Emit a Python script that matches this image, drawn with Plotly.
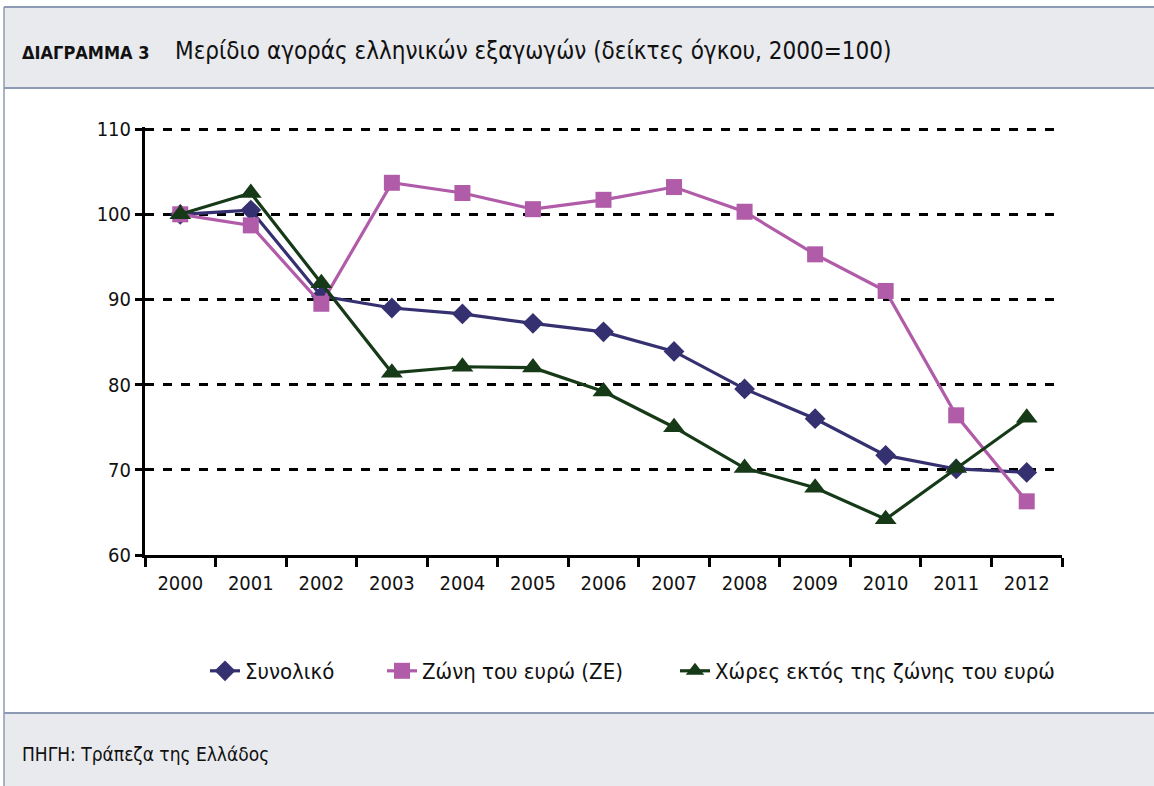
import plotly.graph_objects as go

years = ["2000", "2001", "2002", "2003", "2004", "2005", "2006", "2007", "2008", "2009", "2010", "2011", "2012"]
total = [100.0, 100.5, 90.4, 89.0, 88.3, 87.2, 86.2, 83.9, 79.5, 76.0, 71.7, 70.1, 69.7]
euro_area = [100.0, 98.7, 89.5, 103.7, 102.5, 100.6, 101.7, 103.2, 100.3, 95.3, 91.0, 76.4, 66.3]
non_euro = [100.0, 102.5, 91.9, 81.4, 82.1, 82.0, 79.2, 75.0, 70.2, 67.9, 64.2, 70.2, 76.1]

names = ["Συνολικό", "Ζώνη του ευρώ (ΖΕ)", "Χώρες εκτός της ζώνης του ευρώ"]
colors = ["#35306f", "#b05ca8", "#163a17"]

FONT = "DejaVu Sans Condensed, Liberation Sans Narrow, sans-serif"
W, H = 1154, 786
L, R, T, B = 145, 1062, 127, 555

def px(x):
    return (x - L) / (R - L)

def py(y):
    return (B - y) / (B - T)

fig = go.Figure()
fig.add_trace(go.Scatter(x=years, y=total, name=names[0], mode="lines+markers", legend="legend",
                         line=dict(color=colors[0], width=3.2),
                         marker=dict(symbol="diamond", size=16, color=colors[0])))
fig.add_trace(go.Scatter(x=years, y=euro_area, name=names[1], mode="lines+markers", legend="legend2",
                         line=dict(color=colors[1], width=3.2),
                         marker=dict(symbol="square", size=16, color=colors[1])))
fig.add_trace(go.Scatter(x=years, y=non_euro, name=names[2], mode="lines+markers", legend="legend3",
                         line=dict(color=colors[2], width=3.2),
                         marker=dict(symbol="triangle-up", size=19, color=colors[2])))

shapes = [
    dict(type="rect", xref="paper", yref="paper", x0=px(4), x1=px(1160), y0=py(88), y1=py(7),
         fillcolor="#e9eaee", line=dict(width=0), layer="below"),
    dict(type="rect", xref="paper", yref="paper", x0=px(4), x1=px(1160), y0=py(790), y1=py(713),
         fillcolor="#e9eaee", line=dict(width=0), layer="below"),
    dict(type="line", xref="paper", yref="paper", x0=px(4), x1=px(1160), y0=py(7), y1=py(7),
         line=dict(color="#8c9bb3", width=2)),
    dict(type="line", xref="paper", yref="paper", x0=px(4), x1=px(1160), y0=py(88), y1=py(88),
         line=dict(color="#8c9bb3", width=2)),
    dict(type="line", xref="paper", yref="paper", x0=px(4), x1=px(1160), y0=py(713), y1=py(713),
         line=dict(color="#8c9bb3", width=2)),
    dict(type="line", xref="paper", yref="paper", x0=px(4), x1=px(4), y0=py(790), y1=py(7),
         line=dict(color="#8c9bb3", width=1.5)),
]

annotations = [
    dict(text="<b>ΔΙΑΓΡΑΜΜΑ 3</b>", xref="paper", yref="paper", x=px(20), y=py(53),
         xanchor="left", yanchor="middle", showarrow=False,
         font=dict(family=FONT, size=18, color="#111")),
    dict(text="Μερίδιο αγοράς ελληνικών εξαγωγών (δείκτες όγκου, 2000=100)", xref="paper", yref="paper",
         x=px(173), y=py(51), xanchor="left", yanchor="middle", showarrow=False,
         font=dict(family=FONT, size=24, color="#111")),
    dict(text="ΠΗΓΗ: Τράπεζα της Ελλάδος", xref="paper", yref="paper", x=px(20), y=py(754),
         xanchor="left", yanchor="middle", showarrow=False,
         font=dict(family=FONT, size=19, color="#111")),
]

leg_common = dict(orientation="h", y=py(671), xanchor="left", yanchor="middle",
                  font=dict(family=FONT, size=22, color="#111"), itemwidth=30,
                  bgcolor="rgba(0,0,0,0)")

fig.update_layout(
    width=W, height=H,
    margin=dict(l=L, r=W - R, t=T, b=H - B, autoexpand=False),
    paper_bgcolor="white", plot_bgcolor="white",
    font=dict(family=FONT, size=18, color="#111"),
    shapes=shapes, annotations=annotations,
    showlegend=True,
    legend=dict(x=px(205), **leg_common),
    legend2=dict(x=px(382), **leg_common),
    legend3=dict(x=px(675), **leg_common),
)
fig.update_xaxes(type="category", range=[-0.5, 12.5], tickson="boundaries",
                 ticks="outside", ticklen=9, tickwidth=3, tickcolor="black",
                 showline=True, linecolor="black", linewidth=3, showgrid=False,
                 tickfont=dict(family=FONT, size=20, color="#111"), ticklabelstandoff=8)
fig.update_yaxes(range=[60, 110.25], dtick=10, tick0=60,
                 ticks="outside", ticklen=7, tickwidth=3, tickcolor="black",
                 showline=True, linecolor="black", linewidth=3,
                 showgrid=True, gridcolor="black", gridwidth=3, griddash="dash",
                 zeroline=False,
                 tickfont=dict(family=FONT, size=20, color="#111"))

fig.write_html("out.html", config={"displayModeBar": False},
               post_script="document.body.style.margin='0';document.body.style.overflow='hidden';")
